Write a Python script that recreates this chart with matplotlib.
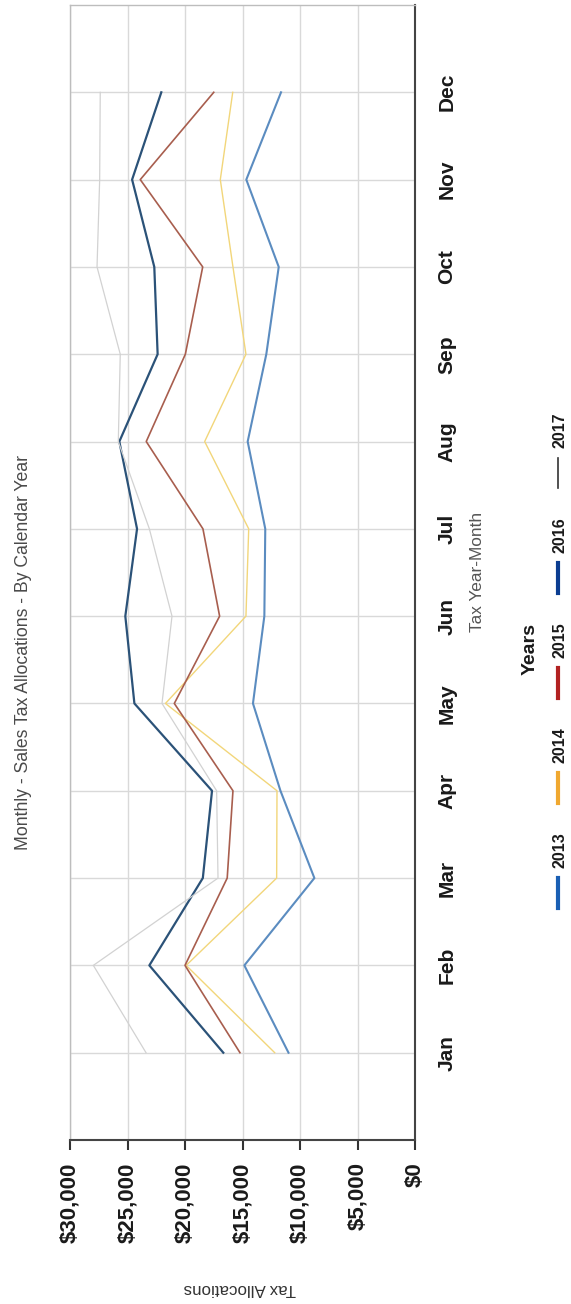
import matplotlib
matplotlib.use("Agg")
import matplotlib.pyplot as plt
from matplotlib.lines import Line2D

# values (rotated 90 degrees in the picture)
months = ["Jan", "Feb", "Mar", "Apr", "May", "Jun",
          "Jul", "Aug", "Sep", "Oct", "Nov", "Dec"]
years = ["2013", "2014", "2015", "2016", "2017"]

sales_2013 = [11000, 14840, 8750, 11700, 14090, 13100, 13020, 14550, 12930, 11850, 14670, 11650]
sales_2014 = [12200, 19900, 12030, 12000, 21700, 14700, 14460, 18290, 14700, 15830, 16930, 15850]
sales_2015 = [15220, 20000, 16330, 15830, 20930, 16990, 18440, 23370, 19970, 18460, 23890, 17500]
sales_2016 = [16670, 23100, 18450, 17650, 24400, 25190, 24170, 25710, 22380, 22670, 24600, 22060]
sales_2017 = [23390, 27970, 17130, 17250, 22000, 21130, 23100, 25800, 25630, 27650, 27420, 27370]

series = [sales_2013, sales_2014, sales_2015, sales_2016, sales_2017]
line_colors = ["#5b8cc0", "#f2d67a", "#a85e4e", "#2b5278", "#d2d2d2"]
line_widths = [1.5, 1.0, 1.2, 1.6, 0.9]
legend_colors = ["#1a5fb4", "#f0a830", "#b22222", "#0b3d91", "#333333"]
legend_widths = [3, 3, 3, 3, 1.2]

font = ["Liberation Sans", "DejaVu Sans"]

W, H = 571, 1304
fig = plt.figure(figsize=(W / 100, H / 100), dpi=100)
ax = fig.add_axes([70 / W, (H - 1140) / H, 345 / W, 1135 / H])

pos = list(range(1, 13))
for vals, c, lw in zip(series, line_colors, line_widths):
    ax.plot(vals, pos, color=c, lw=lw, zorder=3)

ax.set_xlim(30000, 0)
ax.set_ylim(0, 13)

ax.set_xticks(range(0, 30001, 5000))
ax.set_xticklabels(["${:,}".format(v) for v in range(0, 30001, 5000)],
                   rotation=90, fontsize=16, fontweight="bold", family=font)
ax.tick_params(axis="x", direction="out", length=7, width=1.5,
               color="#333333", pad=9, labelcolor="#1a1a1a")

ax.yaxis.tick_right()
ax.set_yticks(pos)
ax.set_yticklabels(months, rotation=90, fontsize=15, fontweight="bold",
                   family=font, va="center")
ax.set_yticks(pos[1::2], minor=True)
ax.tick_params(axis="y", which="major", length=0, pad=16, labelcolor="#1a1a1a")
ax.tick_params(axis="y", which="minor", direction="out", length=7,
               width=1.5, color="#333333")

ax.grid(True, color="#d9d9d9", lw=1.0, zorder=0)
for side in ["top", "left"]:
    ax.spines[side].set_color("#bdbdbd")
    ax.spines[side].set_linewidth(1.0)
for side in ["right", "bottom"]:
    ax.spines[side].set_color("#444444")
    ax.spines[side].set_linewidth(1.5)

fig.text(24 / W, 1 - 652 / H, "Monthly - Sales Tax Allocations - By Calendar Year",
         rotation=90, ha="center", va="center", fontsize=12.7, color="#4a4a4a",
         family=font)
fig.text(478 / W, 1 - 572 / H, "Tax Year-Month", rotation=90, ha="center",
         va="center", fontsize=12.4, color="#555555", family=font)
fig.text(240 / W, 1 - 1289 / H, "Tax Allocations", rotation=180, ha="center",
         va="center", fontsize=12.2, color="#333333", family=font)
fig.text(530 / W, 1 - 649 / H, "Years", rotation=90, ha="center", va="center",
         fontsize=14, fontweight="bold", color="#1a1a1a", family=font)

# legend drawn by hand because the whole chart is turned on its side
for i, (yr, c, lw) in enumerate(zip(years, legend_colors, legend_widths)):
    y0 = 908 - 105 * i
    fig.add_artist(Line2D([558 / W, 558 / W], [1 - y0 / H, 1 - (y0 - 30) / H],
                          transform=fig.transFigure, color=c, lw=lw))
    fig.text(560 / W, 1 - (y0 - 58) / H, yr, rotation=90, ha="center",
             va="center", fontsize=11.5, fontweight="bold", color="#1a1a1a",
             family=font)

fig.savefig("out.png", dpi=100)
